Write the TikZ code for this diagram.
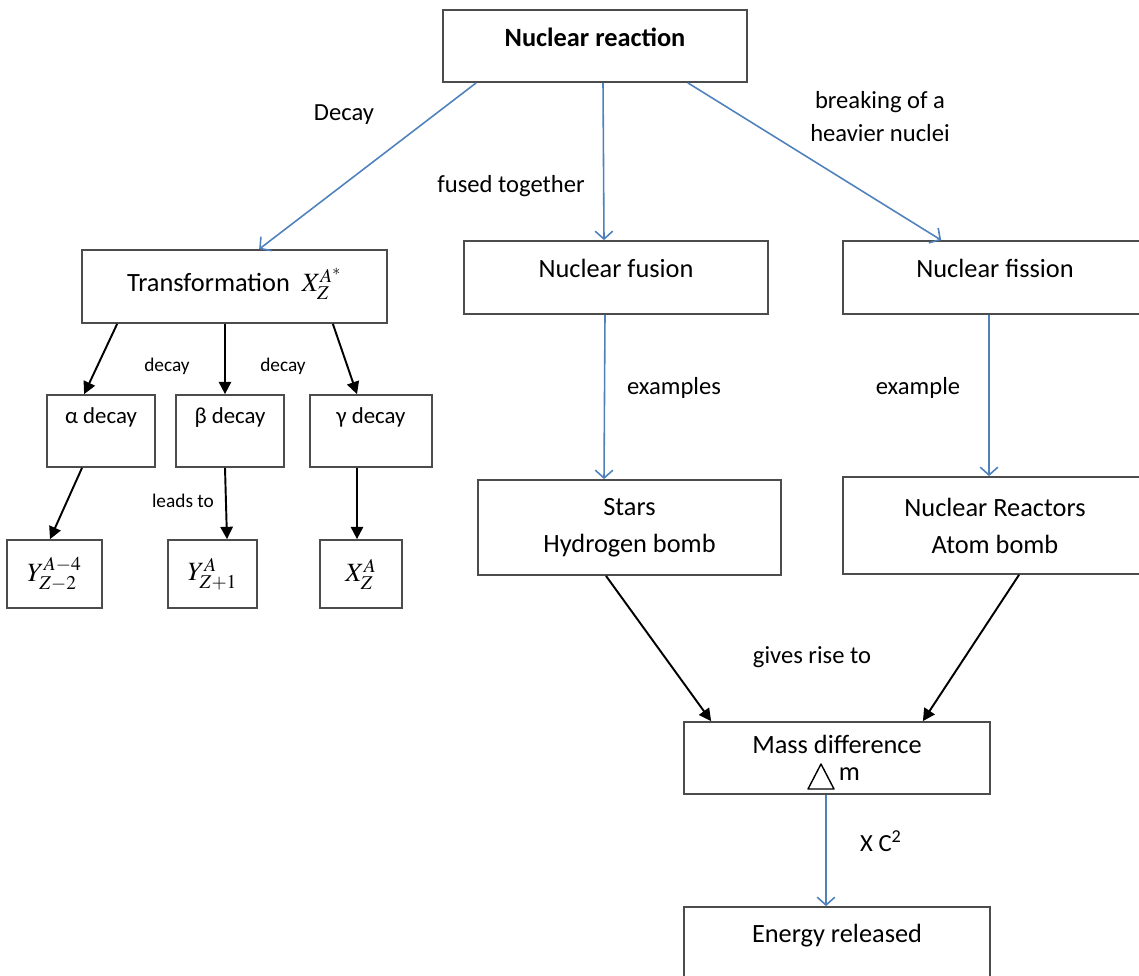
\documentclass[tikz,border=0pt]{standalone}
\usepackage{mathptmx}
\usepackage[no-math]{fontspec}
\setmainfont{Carlito}
\usetikzlibrary{arrows.meta,calc}
\definecolor{lineblue}{RGB}{79,129,189}
\newcommand{\fsz}[1]{\fontsize{#1}{1.3\dimexpr#1pt\relax}\selectfont}

\begin{document}
\begin{tikzpicture}[x=0.02cm, y=-0.02cm,
  box/.style={draw=black!70, line width=1pt, font=\fontsize{15}{21}\selectfont},
  raise/.style={text height=11pt, text depth=#1},
  blu/.style={draw=lineblue, line width=0.9pt, -{Straight Barb[length=4.5pt,width=10pt]}},
  blk/.style={line width=1.1pt, -{Triangle[length=7pt,width=7pt]}},
  lbl/.style={font=\fsz{14}},
  sml/.style={font=\fsz{11}}]
\useasboundingbox (0,0) rectangle (1139,975);
\node[box, minimum width=6.08cm, minimum height=1.44cm, raise=11pt, font=\bfseries\fsz{15}] (react) at (595,46) {Nuclear reaction};
\node[box, minimum width=6.1cm, minimum height=1.46cm, raise=4.8pt] (trans) at (234.5,286.5) {Transformation~~$X_Z^{A^*}$};
\node[box, minimum width=6.08cm, minimum height=1.46cm, raise=11pt] (fusion) at (616,277.5) {Nuclear fusion};
\node[box, minimum width=6.08cm, minimum height=1.46cm, raise=11pt] (fission) at (995,277.5) {Nuclear fission};
\node[box, minimum width=2.16cm, minimum height=1.44cm, raise=20pt, font=\fsz{13}] (alpha) at (101,431) {α decay};
\node[box, minimum width=2.16cm, minimum height=1.44cm, raise=20pt, font=\fsz{13}] (beta) at (230,431) {β decay};
\node[box, minimum width=2.44cm, minimum height=1.44cm, raise=20pt, font=\fsz{13}] (gamma) at (371,431) {γ decay};
\node[box, minimum width=1.9cm, minimum height=1.36cm] (y1) at (54.5,574) {$Y_{Z-2}^{A-4}$};
\node[box, minimum width=1.78cm, minimum height=1.36cm] (y2) at (212.5,574) {$Y_{Z+1}^{A}$};
\node[box, minimum width=1.64cm, minimum height=1.36cm] (xz) at (361,574) {$X_Z^{A}$};
\node[box, minimum width=6.06cm, minimum height=1.9cm, align=center] (stars) at (629.5,527.5) {Stars\\Hydrogen bomb};
\node[box, minimum width=6.08cm, minimum height=1.94cm, align=center] (reactors) at (995,525.5) {Nuclear Reactors\\Atom bomb};
\node[box, minimum width=6.12cm, minimum height=1.44cm, align=center, font=\fontsize{15}{15}\selectfont] (mass) at (837,758) {Mass difference\\\hspace*{14pt}m};
\draw[line width=0.8pt, line join=round] (808,789) -- (834,789) -- (821,764) -- cycle;
\node[box, minimum width=6.12cm, minimum height=1.66cm, raise=18.4pt] (energy) at (837,948.5) {Energy released};

\node[lbl] (decay) at (344,115) {Decay};
\node[lbl] (fused) at (511,186) {fused together};
\node[lbl, align=center, font=\fontsize{14}{18.8}\selectfont] (breaking) at (880,117) {breaking of a\\heavier nuclei};
\node[sml] (dec1) at (167,366) {decay};
\node[sml] (dec2) at (283,366) {decay};
\node[sml] (leads) at (183,501) {leads to};
\node[lbl] (ex1) at (674,388) {examples};
\node[lbl] (ex2) at (918,388) {example};
\node[lbl] (rise) at (812,657) {gives rise to};
\node[lbl] (xc) at (881,841) {X C\textsuperscript{2}};

\draw[blu] ($(react.south west)+(34,0)$) -- ($(trans.north west)+(178,0)$);
\draw[blu] ($(react.south)+(8,0)$) -- ($(fusion.north)+(-12,0)$);
\draw[blu] ($(react.south east)+(-60,0)$) -- ($(fission.north west)+(99,0)$);
\draw[blk] ($(trans.south west)+(36,0)$) -- ($(alpha.north west)+(38,0)$);
\draw[blk] ($(trans.south)+(-9.5,0)$) -- ($(beta.north)+(-5,0)$);
\draw[blk] ($(trans.south east)+(-55,0)$) -- ($(gamma.north)+(-14,0)$);
\draw[blk] ($(alpha.south)+(-19,0)$) -- ($(y1.north)+(-4.5,0)$);
\draw[blk] ($(beta.south)+(-5,0)$) -- ($(y2.north)+(14.5,0)$);
\draw[blk] ($(gamma.south)+(-14,0)$) -- ($(xz.north)+(-4,0)$);
\draw[blu] ($(fusion.south)+(-11,0)$) -- ($(stars.north)+(-25.5,0)$);
\draw[blu] ($(fission.south)+(-6,0)$) -- ($(reactors.north)+(-6,0)$);
\draw[blk] ($(stars.south)+(-23.5,0)$) -- ($(mass.north west)+(28,0)$);
\draw[blk] ($(reactors.south)+(24,0)$) -- ($(mass.north east)+(-68,0)$);
\draw[blu] ($(mass.south)+(-11,0)$) -- ($(energy.north)+(-11,0)$);
\end{tikzpicture}
\end{document}
